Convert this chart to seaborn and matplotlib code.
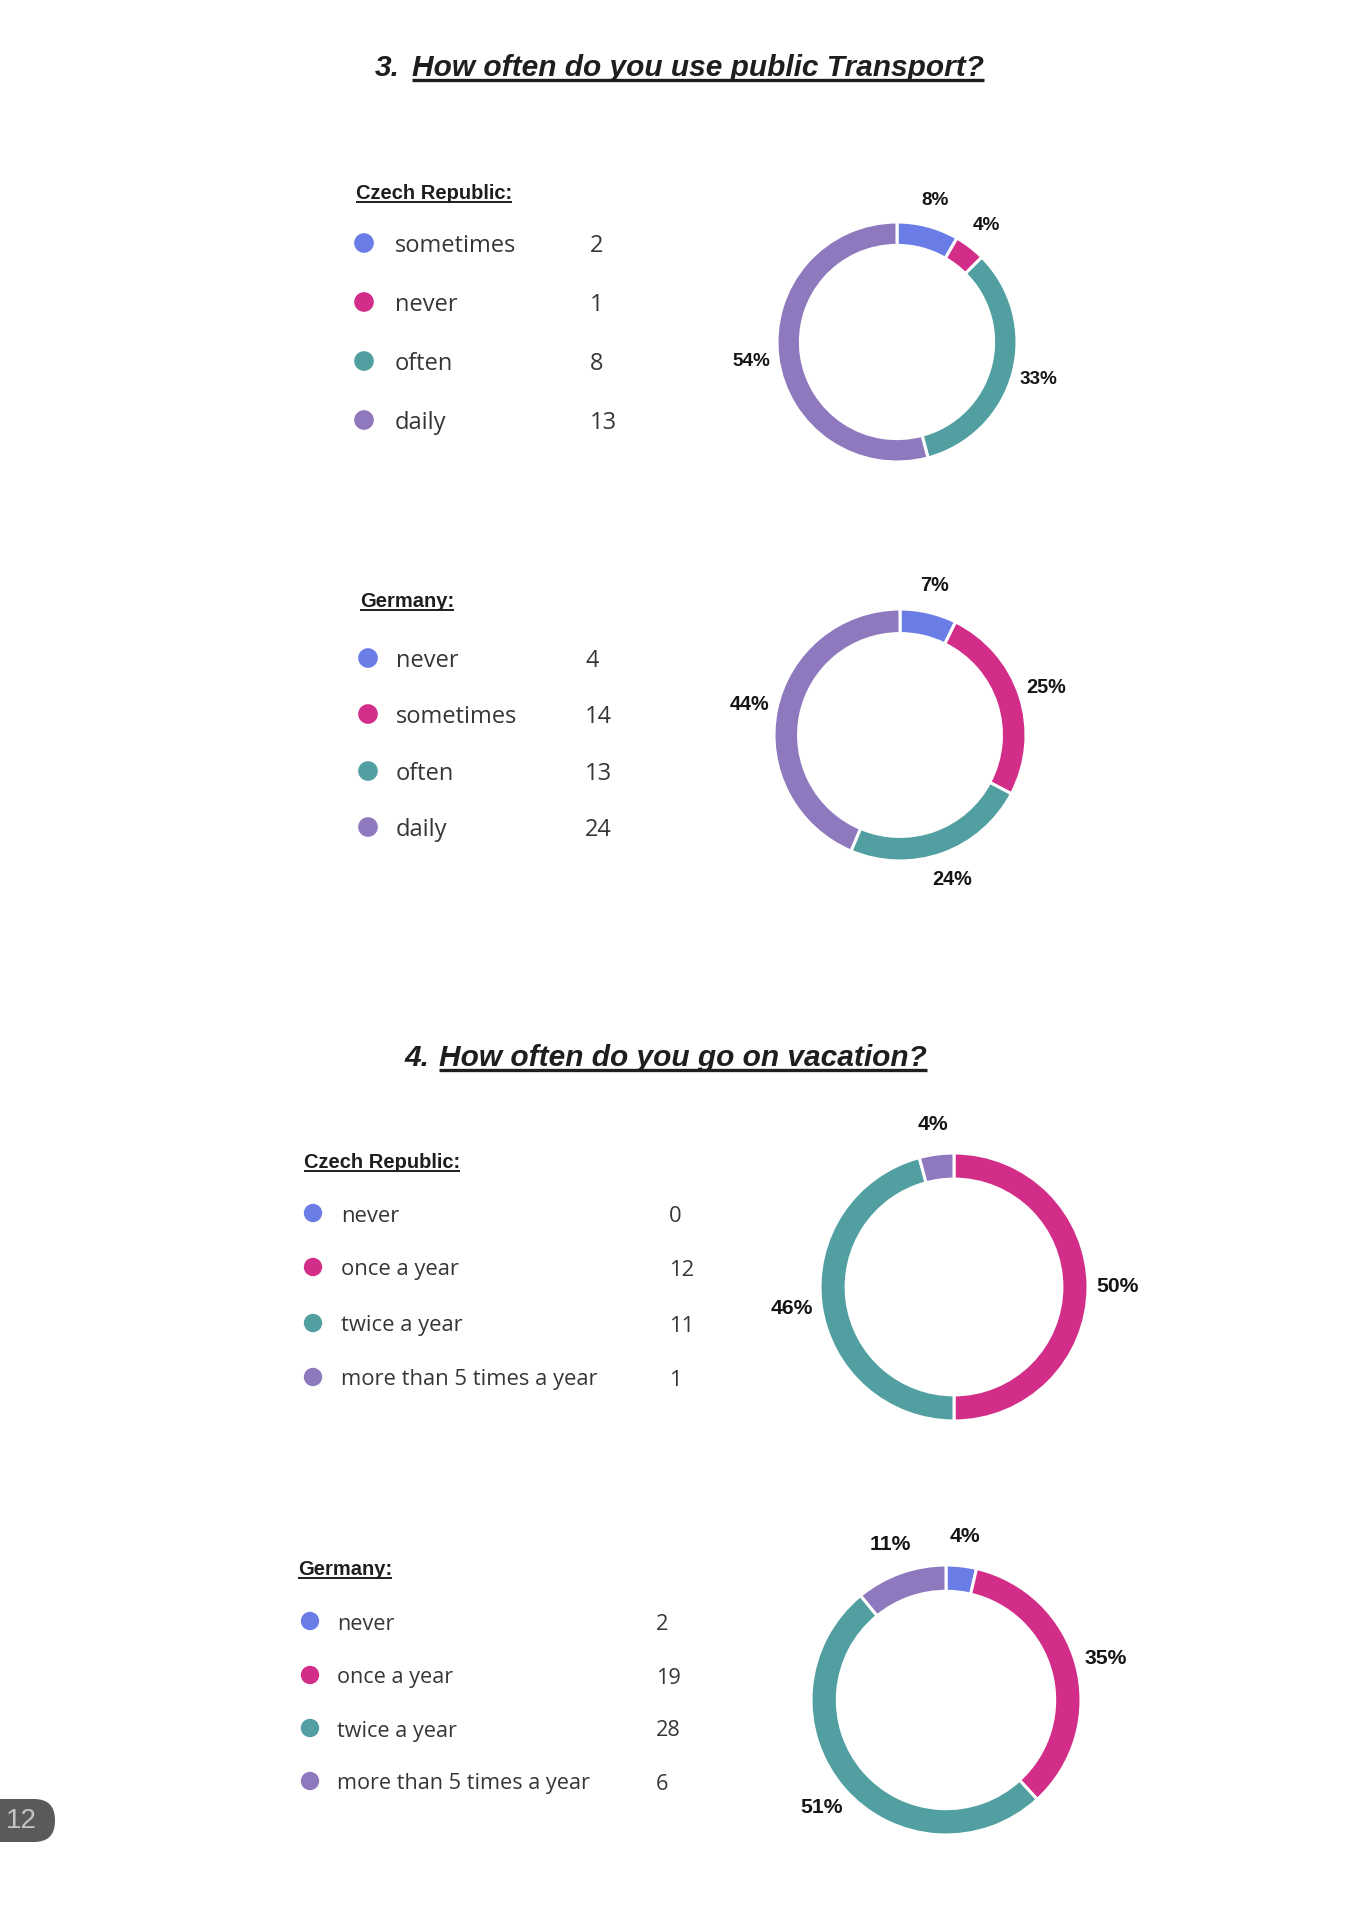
import numpy as np
import pandas as pd
import seaborn as sns
import matplotlib.pyplot as plt
from matplotlib.patches import FancyBboxPatch

W, H = 1352, 1923

# slice colours (same order in every chart)
BLUE = '#6A7DE6'
PINK = '#D32D8A'
TEAL = '#519FA1'
PURPLE = '#8E78BE'
slice_colors = [BLUE, PINK, TEAL, PURPLE]

# === data read from the page ===
transport_cats_cz = ['sometimes', 'never', 'often', 'daily']
transport_vals_cz = [2, 1, 8, 13]
transport_cats_de = ['never', 'sometimes', 'often', 'daily']
transport_vals_de = [4, 14, 13, 24]
vacation_cats = ['never', 'once a year', 'twice a year', 'more than 5 times a year']
vacation_vals_cz = [0, 12, 11, 1]
vacation_vals_de = [2, 19, 28, 6]

q3_num, q3_text = '3.', 'How often do you use public Transport?'
q4_num, q4_text = '4.', 'How often do you go on vacation?'

sns.set_theme(style='white')
plt.rcParams['font.family'] = ['Open Sans', 'DejaVu Sans']

fig = plt.figure(figsize=(W / 100, H / 100), dpi=100)
fig.patch.set_facecolor('white')

# overlay axes in pixel coordinates for the texts / legend dots
ov = fig.add_axes([0, 0, 1, 1])
ov.set_axis_off()

underlines = []  # (text artist, baseline y, linewidth)


def title(num, text, x_num, x_text, y, size=21.5):
    ov.text(x_num, y, num, fontsize=size, fontweight='bold', fontstyle='italic',
            family='Liberation Sans', color='#1e1e1e', va='baseline', ha='left')
    t = ov.text(x_text, y, text, fontsize=size, fontweight='bold', fontstyle='italic',
                family='Liberation Sans', color='#1e1e1e', va='baseline', ha='left')
    underlines.append((t, y + 4, 2.4))


def legend(header, hx, hy, cats, vals, dot_x, lab_x, val_x, ys, fsize, dot_s):
    t = ov.text(hx, hy, header, fontsize=14.5, fontweight='bold', family='Liberation Sans',
                color='#1e1e1e', va='baseline', ha='left')
    underlines.append((t, hy + 3, 1.4))
    df = pd.DataFrame({'cat': cats, 'val': vals, 'x': [dot_x] * len(cats), 'y': ys})
    sns.scatterplot(data=df, x='x', y='y', hue='cat', palette=dict(zip(cats, slice_colors)),
                    s=dot_s, linewidth=0, legend=False, ax=ov)
    for _, row in df.iterrows():
        ov.text(lab_x, row['y'] + 3, row['cat'], fontsize=fsize, color='#363636',
                va='center', ha='left')
        ov.text(val_x, row['y'] + 3, str(row['val']), fontsize=fsize, color='#363636',
                va='center', ha='left')


def donut(cx, cy, r, values, fsize):
    size = 3.4 * r
    ax = fig.add_axes([(cx - size / 2) / W, 1 - (cy + size / 2) / H, size / W, size / H])
    ax.pie(values, colors=slice_colors, startangle=90, counterclock=False, radius=1,
           wedgeprops=dict(width=0.195, edgecolor='white', linewidth=2.2),
           autopct=lambda p: f'{p:.0f}%' if p > 0 else '', pctdistance=1.22,
           textprops=dict(fontsize=fsize, fontweight='bold', family='Liberation Sans',
                          color='#151515'))
    ax.set_xlim(-1.7, 1.7)
    ax.set_ylim(-1.7, 1.7)
    ax.set_axis_off()


# === question 3 ===
title(q3_num, q3_text, 375, 412, 76)
legend('Czech Republic:', 356, 199, transport_cats_cz, transport_vals_cz,
       364, 395, 590, [243, 302, 361, 420], 17, 200)
donut(897, 342, 120, transport_vals_cz, 13.6)

legend('Germany:', 360, 607, transport_cats_de, transport_vals_de,
       368, 396, 585, [658, 714, 771, 827], 17, 200)
donut(900, 735, 126, transport_vals_de, 14.3)

# === question 4 ===
title(q4_num, q4_text, 404, 439, 1066)
legend('Czech Republic:', 304, 1168, vacation_cats, vacation_vals_cz,
       313, 341, 669, [1213, 1267, 1323, 1377], 15.8, 175)
donut(954, 1287, 134, vacation_vals_cz, 15.2)

legend('Germany:', 298, 1575, vacation_cats, vacation_vals_de,
       310, 337, 656, [1621, 1675, 1728, 1781], 15.6, 175)
donut(946, 1700, 135, vacation_vals_de, 15.2)

# page number badge
ov.add_patch(FancyBboxPatch((-40, 1799), 95, 43, boxstyle='round,pad=0,rounding_size=21',
                            facecolor='#5a5a5a', edgecolor='none'))
ov.text(21, 1821, '12', fontsize=20, color='#c4c4c4', family='Liberation Sans',
        va='center', ha='center')

ov.set_xlim(0, W)
ov.set_ylim(H, 0)
ov.set_axis_off()

# underlines under the bold headings
fig.canvas.draw()
renderer = fig.canvas.get_renderer()
for t, y, lw in underlines:
    bb = t.get_window_extent(renderer)
    ov.plot([bb.x0, bb.x1], [y, y], color='#1e1e1e', lw=lw, solid_capstyle='butt')
ov.set_xlim(0, W)
ov.set_ylim(H, 0)

fig.savefig('out.png', dpi=100)
